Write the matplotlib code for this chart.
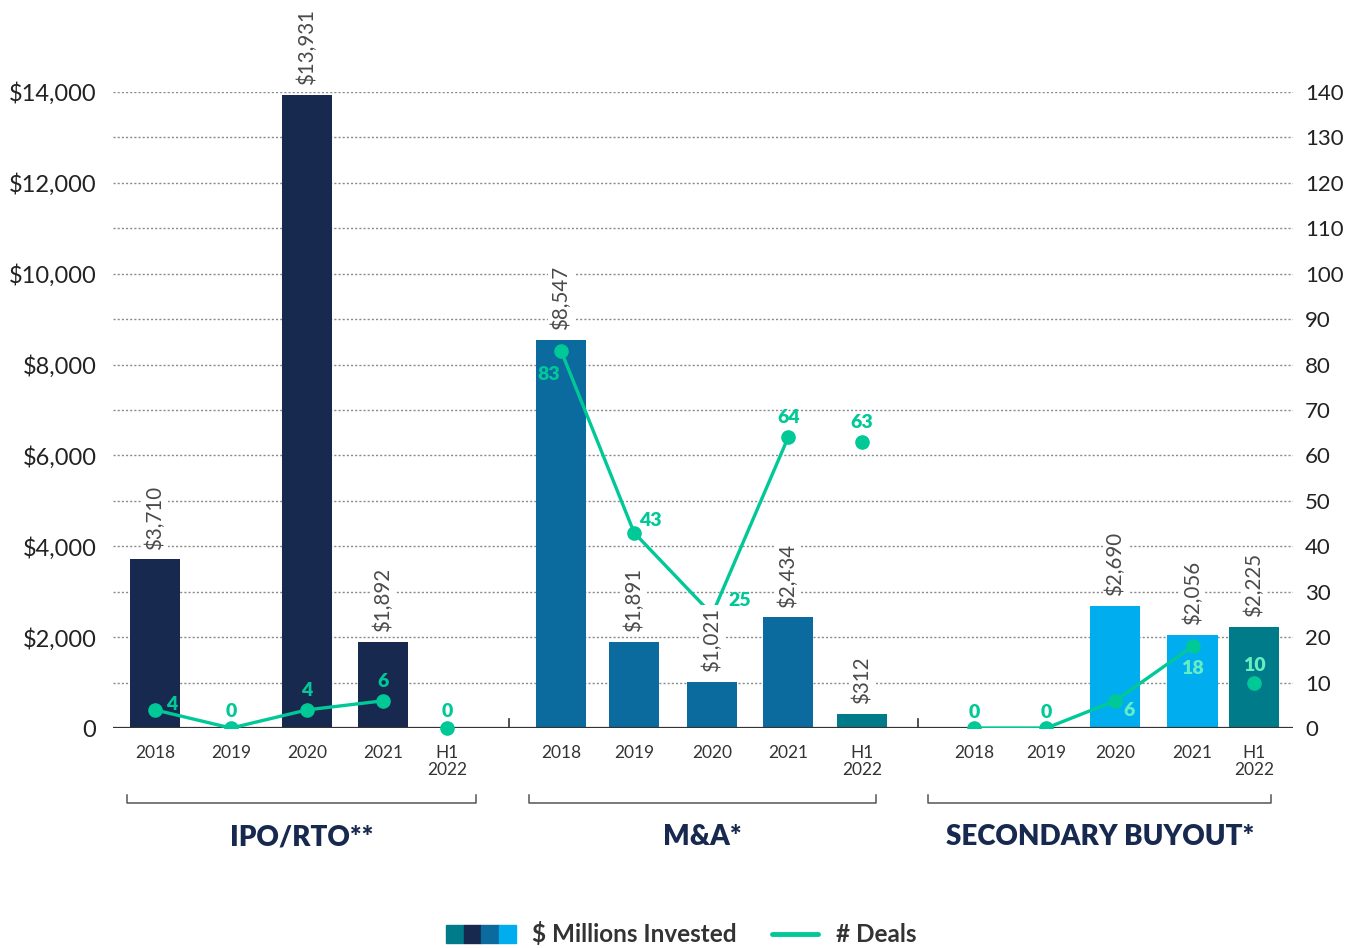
import matplotlib.pyplot as plt
import matplotlib.transforms as mtransforms
from matplotlib.patches import Rectangle
from matplotlib.lines import Line2D

plt.rcParams['font.family'] = ['Lato', 'DejaVu Sans']

groups = ["IPO/RTO**", "M&A*", "SECONDARY BUYOUT*"]
periods = ["2018", "2019", "2020", "2021", "H1\n2022"]
ipo_invested = [3710, 0, 13931, 1892, 0]
ma_invested = [8547, 1891, 1021, 2434, 312]
sb_invested = [0, 0, 2690, 2056, 2225]
ipo_deals = [4, 0, 4, 6, 0]
ma_deals = [83, 43, 25, 64, 63]
sb_deals = [0, 0, 6, 18, 10]

navy = "#17294f"
blue = "#0b6a9e"
light = "#00aeef"
teal = "#007b8a"
green = "#00c896"
pale_green = "#66eec2"
grey_txt = "#4a4a4a"

# slot positions of each group on the x axis (layout only)
slots = [[0, 1.013, 2.027, 3.04, 3.89],
         [5.413, 6.386, 7.426, 8.44, 9.426],
         [10.92, 11.88, 12.8, 13.83, 14.65]]
brackets = [(-0.373, 4.28), (4.99, 9.61), (10.31, 14.88)]
separators = [4.72, 10.17]

invested = [ipo_invested, ma_invested, sb_invested]
deals = [ipo_deals, ma_deals, sb_deals]
bar_colors = [[navy] * 4 + [teal], [blue] * 4 + [teal], [light] * 4 + [teal]]

# deal label offsets (points) and colors
deal_off = [[(12, 4), (0, 12), (0, 14), (0, 14), (0, 12)],
            [(-9, -17), (12, 9), (20, 10), (0, 14), (0, 14)],
            [(0, 11), (0, 11), (10, -7), (0, -16), (0, 12)]]
deal_col = [[green] * 5, [green] * 5, [green, green, pale_green, pale_green, pale_green]]

fig = plt.figure(figsize=(13.57, 9.48), dpi=100)
ax = fig.add_axes([0.0833, 0.232, 0.8696, 0.671])
ax2 = ax.twinx()

ax.set_xlim(-0.56, 15.17)
ax.set_ylim(0, 14000)
ax2.set_ylim(0, 140)

for y in range(1000, 14001, 1000):
    ax.axhline(y, color="#8a8a8a", lw=1, ls=(0, (1.5, 1.5)), zorder=0)

xs_all = []
for g in range(3):
    xs = slots[g]
    xs_all += xs
    for x, v, c in zip(xs, invested[g], bar_colors[g]):
        if v > 0:
            ax.bar(x, v, width=0.67, color=c, zorder=2)
            ax2.annotate(f"${v:,}", xy=(x, v), xycoords=ax.transData,
                         xytext=(0, 7), textcoords="offset points",
                         rotation=90, ha="center", va="bottom", fontsize=14.8,
                         color=grey_txt, zorder=5, annotation_clip=False,
                         bbox=dict(boxstyle="square,pad=0.12", fc="white", ec="none"))
    # connected line for full years, separate point for H1
    ax2.plot(xs[:4], deals[g][:4], color=green, lw=2.4, marker="o", ms=9.5, zorder=3)
    ax2.plot(xs[4:], deals[g][4:], color=green, lw=0, marker="o", ms=9.5, zorder=3,
             clip_on=False)
    for x, d, off, c in zip(xs, deals[g], deal_off[g], deal_col[g]):
        ax2.annotate(str(d), xy=(x, d), xytext=off, textcoords="offset points",
                     ha="center", va="center", fontsize=14, fontweight="heavy",
                     color=c, zorder=6, annotation_clip=False)

for a in (ax, ax2):
    for s in a.spines.values():
        s.set_visible(False)

ax.axhline(0, color="#333333", lw=1.6, zorder=4)
for xsep in separators:
    ax.plot([xsep, xsep], [0, 200], color="#333333", lw=1.2, zorder=4)

ax.set_xticks(xs_all)
ax.set_xticklabels(periods * 3, fontsize=12.5, color="#333333", linespacing=1.1)
ax.tick_params(axis="x", length=0, pad=12)

ax.set_yticks(range(0, 14001, 2000))
ax.set_yticklabels(["0"] + [f"${v:,}" for v in range(2000, 14001, 2000)],
                   fontsize=17, color="#222222")
ax.tick_params(axis="y", length=0, pad=12)

ax2.set_yticks(range(0, 141, 10))
ax2.set_yticklabels([str(v) for v in range(0, 141, 10)], fontsize=16, color="#222222")
ax2.tick_params(axis="y", length=0, pad=8.5)

# group brackets and names
trans = mtransforms.blended_transform_factory(ax.transData, fig.transFigure)
for g in range(3):
    x0, x1 = brackets[g]
    ax.plot([x0, x0, x1, x1], [0.161, 0.153, 0.153, 0.161], color="#555555", lw=1.1,
            transform=trans, clip_on=False)
    ax.text((x0 + x1) / 2, 0.117, groups[g], transform=trans, ha="center", va="center",
            fontsize=20, fontweight="heavy", color=navy)

# legend
for i, c in enumerate([teal, navy, blue, light]):
    fig.patches.append(Rectangle((0.3287 + i * 0.0129, 0.0053), 0.0129, 0.019,
                                 transform=fig.transFigure, color=c))
fig.text(0.392, 0.0143, "$ Millions Invested", fontsize=17.5, fontweight="bold",
         color="#333333", va="center")
fig.lines.append(Line2D([0.569, 0.603], [0.0143, 0.0143], transform=fig.transFigure,
                        color=green, lw=3.5, solid_capstyle="round"))
fig.text(0.616, 0.0143, "# Deals", fontsize=17.5, fontweight="bold",
         color="#333333", va="center")

fig.savefig("out.png", dpi=100)
